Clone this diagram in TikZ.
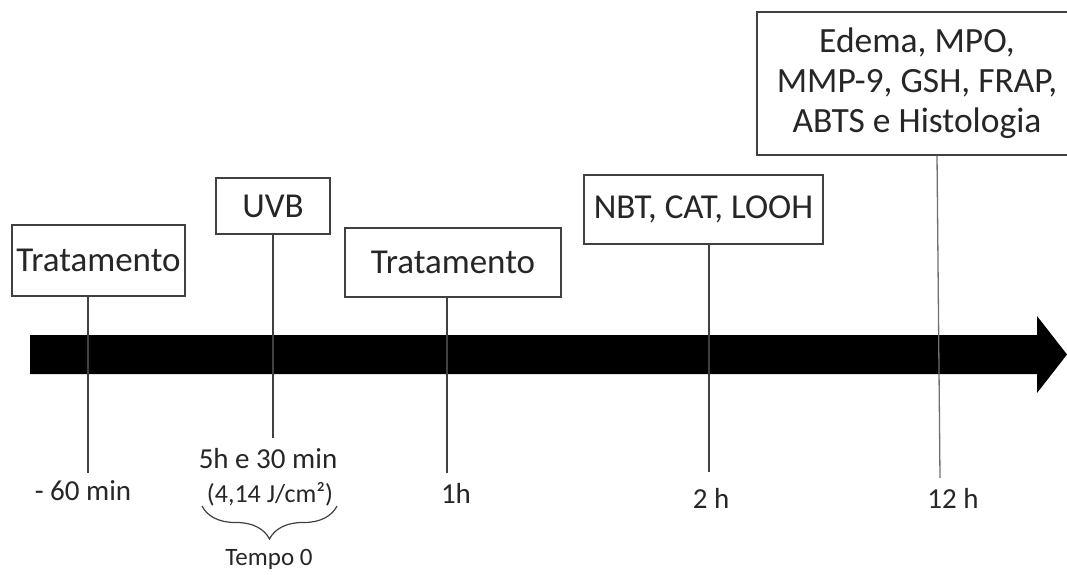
\documentclass[tikz,border=0pt]{standalone}
\usepackage{fontspec}
\setmainfont{Carlito}
\usetikzlibrary{decorations.pathreplacing}
\definecolor{darkText}{HTML}{262626}
\definecolor{lineGray}{HTML}{404040}
\definecolor{lightLine}{HTML}{707070}

\tikzset{
    evtbox/.style={draw=lineGray, line width=1.3pt, fill=white, inner sep=2pt, text=darkText, align=center, font=\fontsize{35}{42}\selectfont},
    tick/.style={draw=lineGray, line width=1.3pt},
    timelabel/.style={anchor=base, inner sep=0pt, text=darkText, font=\fontsize{29}{34}\selectfont},
}

\begin{document}
\begin{tikzpicture}[x=1pt, y=-1pt]
    \useasboundingbox (0,0) rectangle (1067,574);

    % time axis
    \fill [black] (30,335) -- (1037,335) -- (1037,316) -- (1067,354.5) -- (1037,393) -- (1037,374) -- (30,374) -- cycle;

    \node (trat1) [evtbox, minimum width=173pt, minimum height=71pt] at (98.5,260.5) {Tratamento};
    \node (uvb) [evtbox, minimum width=114pt, minimum height=56pt] at (273,206) {UVB};
    \node (trat2) [evtbox, minimum width=216pt, minimum height=69pt] at (453,262.5) {Tratamento};
    \node (nbt) [evtbox, minimum width=239pt, minimum height=69pt] at (703.5,209.5) {NBT, CAT, LOOH};
    \node (edema) [evtbox, minimum width=320pt, minimum height=143pt, font=\fontsize{35.5}{40}\selectfont] at (917,83.5) {Edema, MPO,\\MMP-9, GSH, FRAP,\\ABTS e Histologia};

    \coordinate (t1) at (88,473);
    \coordinate (t2) at (273,438);
    \coordinate (t3) at (447,473);
    \coordinate (t4) at (709,472);
    \coordinate (t5) at (940,478);

    \draw [tick] (trat1.south -| t1) -- (t1);
    \draw [tick] (uvb.south) -- (t2);
    \draw [tick] (trat2.south -| t3) -- (t3);
    \draw [tick] (nbt.south -| t4) -- (t4);
    \draw [tick, draw=lightLine] (edema.south) ++(20,0) -- (t5);

    \node (m60) [timelabel] at (83,500) {- 60 min};
    \node (uvbTime) [timelabel] at (268,468) {5h e 30 min};
    \node (dose) [timelabel, font=\fontsize{26}{30}\selectfont] at (270,502) {(4,14 J/cm²)};
    \node (h1) [timelabel] at (456,503) {1h};
    \node (h2) [timelabel] at (711,508) {2 h};
    \node (h12) [timelabel] at (953,508) {12 h};

    \coordinate (braceL) at (202,506);
    \coordinate (braceR) at (337,506);
    \draw [lineGray, line width=1.2pt, decorate, decoration={brace, mirror, amplitude=33pt}] (braceL) -- (braceR);
    \node (tempo) [timelabel, font=\fontsize{25}{30}\selectfont] at (269,565) {Tempo 0};
\end{tikzpicture}
\end{document}
